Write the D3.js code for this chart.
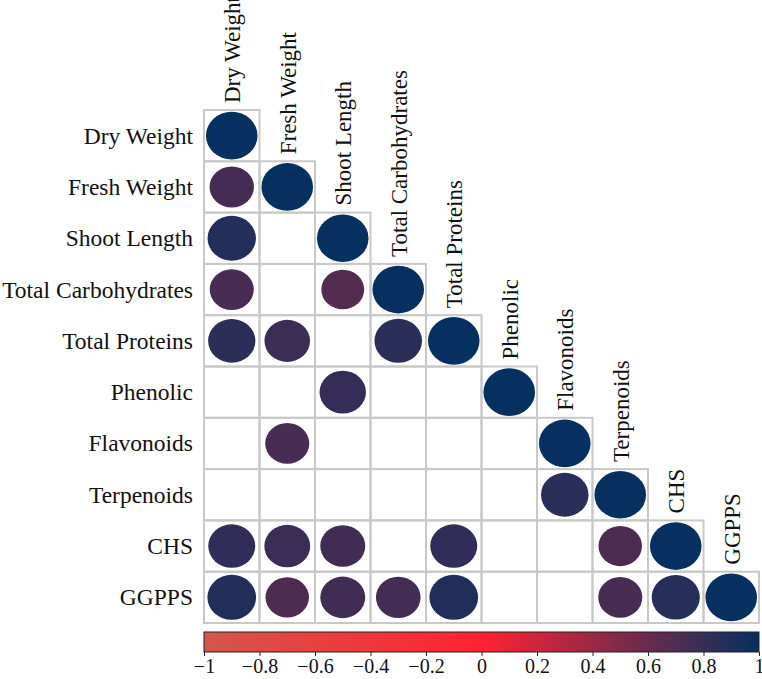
<!DOCTYPE html>
<html>
<head>
<meta charset="utf-8">
<script src="https://cdn.jsdelivr.net/npm/d3@7"></script>
<style>
  body { margin: 0; background: #fff; }
  text { font-family: "Liberation Serif", "Times New Roman", serif; fill: #111; }
</style>
</head>
<body>
<div id="chart"></div>
<script>
// variables, in matrix order
const variables = ["Dry Weight", "Fresh Weight", "Shoot Length", "Total Carbohydrates",
  "Total Proteins", "Phenolic", "Flavonoids", "Terpenoids", "CHS", "GGPPS"];

// lower-triangle correlations, row by row; null = blank (not significant)
const rowDry    = [1];
const rowFresh  = [0.74, 1];
const rowShoot  = [0.88, null, 1];
const rowCarb   = [0.73, null, 0.69, 1];
const rowProt   = [0.84, 0.78, null, 0.85, 1];
const rowPhen   = [null, null, 0.81, null, null, 1];
const rowFlav   = [null, 0.73, null, null, null, null, 1];
const rowTerp   = [null, null, null, null, null, null, 0.85, 1];
const rowCHS    = [0.83, 0.79, 0.76, null, 0.83, null, null, 0.71, 1];
const rowGGPPS  = [0.89, 0.71, 0.76, 0.75, 0.89, null, null, 0.73, 0.87, 1];
const matrix = [rowDry, rowFresh, rowShoot, rowCarb, rowProt, rowPhen, rowFlav, rowTerp, rowCHS, rowGGPPS];

const colorTicks = [-1, -0.8, -0.6, -0.4, -0.2, 0, 0.2, 0.4, 0.6, 0.8, 1];

const width = 762;
const height = 679;
const gridLeft = 204, gridRight = 759, gridTop = 110, gridBottom = 623;

const svg = d3.select("#chart")
  .append("svg")
  .attr("width", width)
  .attr("height", height);

const x = d3.scaleBand().domain(d3.range(variables.length)).range([gridLeft, gridRight]);
const y = d3.scaleBand().domain(d3.range(variables.length)).range([gridTop, gridBottom]);

const color = d3.scaleLinear()
  .domain([-1, -0.5, 0, 1])
  .range(["#d4564c", "#ea3c3c", "#ff2233", "#05305f"])
  .interpolate(d3.interpolateRgb);

const size = d3.scaleSqrt().domain([0, 1]).range([0, 0.93]);

// flatten matrix into cells
const cells = [];
matrix.forEach(function(row, i) {
  row.forEach(function(v, j) {
    cells.push({ i: i, j: j, v: v });
  });
});

/**
 * Grid
 */
svg.append("g")
  .selectAll("rect")
  .data(cells)
  .enter()
  .append("rect")
  .attr("x", d => x(d.j))
  .attr("y", d => y(d.i))
  .attr("width", x.bandwidth())
  .attr("height", y.bandwidth())
  .attr("fill", "none")
  .attr("stroke", "#c8c8c8")
  .attr("stroke-width", 2);

/**
 * Ellipses
 */
svg.append("g")
  .selectAll("ellipse")
  .data(cells.filter(d => d.v !== null))
  .enter()
  .append("ellipse")
  .attr("cx", d => x(d.j) + x.bandwidth() / 2)
  .attr("cy", d => y(d.i) + y.bandwidth() / 2)
  .attr("rx", d => size(Math.abs(d.v)) * x.bandwidth() / 2)
  .attr("ry", d => size(Math.abs(d.v)) * y.bandwidth() / 2)
  .attr("fill", d => color(d.v));

/**
 * Labels
 */
svg.append("g")
  .selectAll("text")
  .data(variables)
  .enter()
  .append("text")
  .attr("x", gridLeft - 11)
  .attr("y", (d, i) => y(i) + y.bandwidth() / 2)
  .attr("text-anchor", "end")
  .attr("dominant-baseline", "central")
  .style("font-size", "23.5px")
  .text(d => d);

svg.append("g")
  .selectAll("text")
  .data(variables)
  .enter()
  .append("text")
  .attr("transform", (d, i) => `translate(${x(i) + x.bandwidth() / 2 + 1}, ${y(i) - 7}) rotate(-90)`)
  .attr("text-anchor", "start")
  .attr("dominant-baseline", "central")
  .style("font-size", "23px")
  .text(d => d);

/**
 * Colour bar
 */
const barTop = 632, barHeight = 20;
const cbScale = d3.scaleLinear().domain([-1, 1]).range([gridLeft, gridRight]);

const grad = svg.append("defs")
  .append("linearGradient")
  .attr("id", "cbar")
  .attr("x1", "0%").attr("x2", "100%");

grad.selectAll("stop")
  .data(d3.range(0, 1.0001, 0.05))
  .enter()
  .append("stop")
  .attr("offset", d => (d * 100) + "%")
  .attr("stop-color", d => color(-1 + 2 * d));

svg.append("rect")
  .attr("x", cbScale(-1))
  .attr("y", barTop)
  .attr("width", cbScale(1) - cbScale(-1))
  .attr("height", barHeight)
  .attr("fill", "url(#cbar)")
  .attr("stroke", "#222")
  .attr("stroke-width", 1);

const cbAxis = d3.axisBottom(cbScale)
  .tickValues(colorTicks)
  .tickSize(4)
  .tickFormat(d => d === 0 ? "0" : d3.format("")(d).replace("-", "\u2212"));

const axisG = svg.append("g")
  .attr("transform", `translate(0, ${barTop + barHeight})`)
  .call(cbAxis);

axisG.select(".domain").remove();
axisG.selectAll("line").attr("stroke", "#222");
axisG.selectAll("text")
  .attr("y", 7)
  .style("font-size", "20px")
  .style("font-family", "'Liberation Serif', 'Times New Roman', serif")
  .attr("fill", "#111");
</script>
</body>
</html>
